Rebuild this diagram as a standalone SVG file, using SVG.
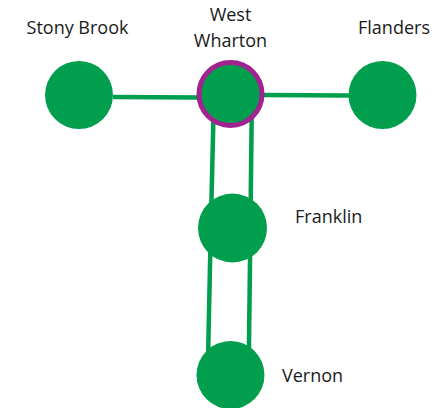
<svg xmlns="http://www.w3.org/2000/svg" width="433" height="408" viewBox="0 0 433 408">
<style>
.n{fill:#009E4D}
.hub{fill:#009E4D;stroke:#A0238F;stroke-width:5}
.e{stroke:#009E4D;stroke-width:4.5;fill:none}
text{font-family:"Open Sans","Liberation Sans",sans-serif;font-size:18px;fill:#1a1a1a}
</style>
<rect width="433" height="408" fill="#fff"/>
<g id="connectors">
<line class="e" x1="113" y1="97" x2="199" y2="97.5"/>
<line class="e" x1="262" y1="95" x2="349" y2="95.5"/>
<line class="e" x1="213.5" y1="115" x2="210.8" y2="228"/>
<line class="e" x1="251.7" y1="115" x2="250.4" y2="228"/>
<line class="e" x1="210.8" y1="228" x2="208" y2="360"/>
<line class="e" x1="250.4" y1="228" x2="248.8" y2="360"/>
</g>
<g id="stony-brook"><circle class="n" cx="79" cy="95" r="34"/><text x="77.5" y="34" text-anchor="middle">Stony Brook</text></g>
<g id="west-wharton"><circle class="hub" cx="230.5" cy="94" r="31.5"/><text x="230.5" y="21" text-anchor="middle">West</text><text x="230.5" y="47" text-anchor="middle">Wharton</text></g>
<g id="flanders"><circle class="n" cx="382.5" cy="95" r="34"/><text x="394" y="34" text-anchor="middle">Flanders</text></g>
<g id="franklin"><circle class="n" cx="232.5" cy="228" r="34.5"/><text x="295" y="223">Franklin</text></g>
<g id="vernon"><circle class="n" cx="230.5" cy="375" r="34"/><text x="282" y="382">Vernon</text></g>
</svg>
